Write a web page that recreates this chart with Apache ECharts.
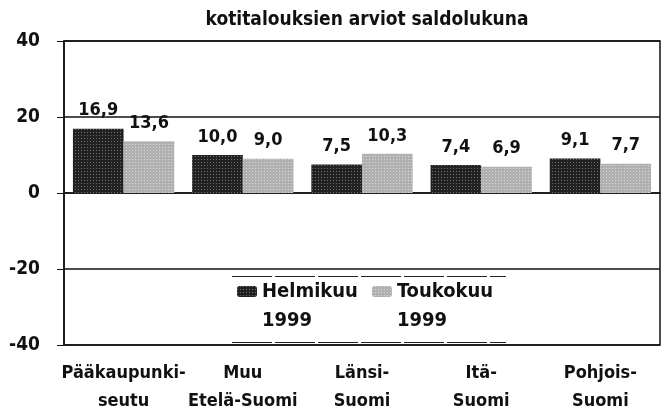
<!DOCTYPE html>
<html>
<head>
<meta charset="utf-8">
<script src="https://cdn.jsdelivr.net/npm/echarts@6/dist/echarts.min.js"></script>
<style>
    html, body { margin: 0; padding: 0; background: #fff; }
    #chart { width: 666px; height: 415px; }
</style>
</head>
<body>
<div id="chart"></div>
<script>
    // alueet ja saldoluvut
    var regions = ['Pääkaupunki-\nseutu', 'Muu\nEtelä-Suomi', 'Länsi-\nSuomi', 'Itä-\nSuomi', 'Pohjois-\nSuomi'];
    var helmikuu = [16.9, 10.0, 7.5, 7.4, 9.1];
    var toukokuu = [13.6, 9.0, 10.3, 6.9, 7.7];
    var seriesNames = ['Helmikuu\n1999', 'Toukokuu\n1999'];
    var yTicks = { min: -40, max: 40, interval: 20 };

    var font = '"DejaVu Sans Condensed", "Liberation Sans Narrow", sans-serif';

    function commaLabel(p) {
        return p.value.toFixed(1).replace('.', ',');
    }

    var myChart = echarts.init(document.getElementById('chart'));
    myChart.setOption({
        animation: false,
        title: {
            text: 'kotitalouksien arviot saldolukuna',
            left: 362,
            textAlign: 'center',
            top: 6,
            textStyle: { fontFamily: font, fontWeight: 'bold', fontSize: 19, color: '#111' }
        },
        legend: {
            data: seriesNames,
            left: 237,
            top: 248,
            padding: 0,
            itemWidth: 20,
            itemHeight: 11,
            itemGap: 14,
            // tyhjä rivi alkuun, jotta ikoni osuu ensimmäiselle tekstiriville
            formatter: function (name) { return ' \n' + name; },
            textStyle: {
                fontFamily: font, fontWeight: 'bold', fontSize: 20, color: '#111',
                lineHeight: 29
            }
        },
        grid: {
            left: 64, right: 6, top: 41, bottom: 67,
            show: true,
            borderColor: '#111',
            borderWidth: 1.5
        },
        xAxis: {
            type: 'category',
            data: regions,
            axisLine: { lineStyle: { color: '#111', width: 1.5 } },
            axisTick: { show: false },
            axisLabel: {
                interval: 0,
                margin: 14,
                fontFamily: font, fontWeight: 'bold', fontSize: 18, color: '#111',
                lineHeight: 28
            }
        },
        yAxis: {
            type: 'value',
            min: yTicks.min,
            max: yTicks.max,
            interval: yTicks.interval,
            axisLine: { show: true, lineStyle: { color: '#111', width: 1.5 } },
            axisTick: { show: true, length: 7, lineStyle: { color: '#111' } },
            splitLine: { lineStyle: { color: '#111', width: 1.5 } },
            axisLabel: {
                margin: 24,
                fontFamily: font, fontWeight: 'bold', fontSize: 19, color: '#111'
            }
        },
        graphic: [
            { type: 'line', shape: { x1: 232, y1: 276.5, x2: 506, y2: 276.5 }, style: { stroke: '#222', lineWidth: 1, lineDash: [40, 3] } },
            { type: 'line', shape: { x1: 232, y1: 342.5, x2: 506, y2: 342.5 }, style: { stroke: '#222', lineWidth: 1, lineDash: [40, 3] } }
        ],
        series: [
            {
                name: seriesNames[0],
                type: 'bar',
                data: helmikuu,
                barGap: '0%',
                barCategoryGap: '15%',
                itemStyle: {
                    color: '#222',
                    decal: {
                        symbol: 'rect', symbolSize: 1,
                        color: 'rgba(255,255,255,0.35)',
                        dashArrayX: [1, 2], dashArrayY: [1, 2], rotation: 0
                    }
                },
                label: {
                    show: true, position: 'top', distance: 9,
                    formatter: commaLabel,
                    fontFamily: font, fontWeight: 'bold', fontSize: 18, color: '#111'
                }
            },
            {
                name: seriesNames[1],
                type: 'bar',
                data: toukokuu,
                itemStyle: {
                    color: '#b0b0b0',
                    decal: {
                        symbol: 'rect', symbolSize: 1,
                        color: 'rgba(255,255,255,0.5)',
                        dashArrayX: [1, 2], dashArrayY: [1, 2], rotation: 0
                    }
                },
                label: {
                    show: true, position: 'top', distance: 9,
                    formatter: commaLabel,
                    fontFamily: font, fontWeight: 'bold', fontSize: 18, color: '#111'
                }
            }
        ]
    });
</script>
</body>
</html>
